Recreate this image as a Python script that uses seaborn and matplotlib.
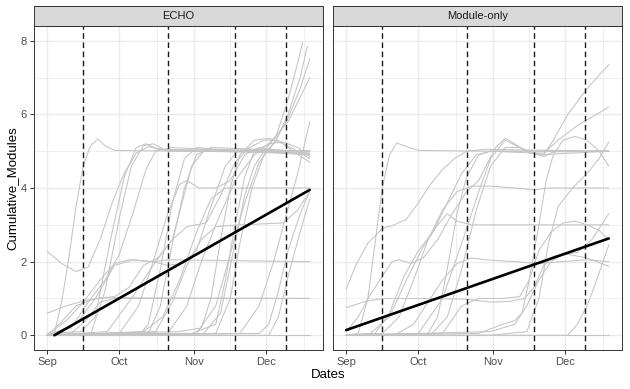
import numpy as np
import pandas as pd
import matplotlib
matplotlib.use("Agg")
import matplotlib.pyplot as plt
import seaborn as sns

# ---------------- data ----------------
panels = ["ECHO", "Module-only"]
month_labels = ["Sep", "Oct", "Nov", "Dec"]
month_days = [0, 30, 61, 91]           # days since Sep 1
minor_days = [15, 45.5, 76, 106.5]
session_days = [15, 50, 78, 99]        # dashed vertical lines
y_major = [0, 2, 4, 6, 8]
y_minor = [1, 3, 5, 7]

trend_echo_days = [3, 109]
trend_echo_vals = [0.0, 3.95]
trend_mod_days = [0, 109]
trend_mod_vals = [0.14, 2.63]

echo_curves = [
    ([0, 3, 6, 9, 12, 15, 18, 21, 24, 28, 60, 109], [0, 0.05, 0.9, 2.1, 3.5, 4.6, 5.15, 5.33, 5.15, 5.02, 5.0, 4.95]),
    ([0, 6, 12, 17, 22, 27, 32, 37, 42, 50, 109], [2.28, 1.95, 1.73, 1.85, 2.6, 3.6, 4.4, 4.95, 5.12, 5.02, 4.95]),
    ([0, 8, 16, 24, 109], [0.6, 0.8, 0.95, 1.02, 1.0]),
    ([0, 109], [0, 0]),
    ([0, 14, 20, 26, 32, 37, 41, 46, 109], [0.05, 0.1, 0.5, 2.5, 4.3, 5.1, 5.2, 5.05, 5.0]),
    ([0, 18, 24, 30, 35, 40, 44, 50, 109], [0, 0, 1.2, 3.2, 4.6, 5.15, 5.2, 5.0, 5.0]),
    ([0, 10, 17, 24, 30, 36, 41, 45, 52, 109], [0, 0.2, 0.9, 1.5, 2.2, 3.4, 4.5, 5.0, 5.1, 4.9]),
    ([0, 8, 15, 22, 28, 34, 44, 50, 109], [0, 0.4, 0.9, 1.5, 1.95, 2.05, 2.0, 2.05, 2.0]),
    ([0, 12, 20, 28, 36, 44, 50, 56, 62, 68, 74, 79, 109], [0, 0.3, 1.0, 1.9, 2.05, 2.0, 1.9, 1.95, 2.3, 3.5, 4.6, 5.0, 5.0]),
    ([0, 30, 38, 44, 50, 55, 58, 63, 70, 76, 82, 88, 109], [0, 0.05, 0.8, 2.0, 3.3, 4.1, 4.2, 4.0, 4.0, 4.2, 4.9, 5.1, 4.9]),
    ([0, 40, 48, 55, 62, 68, 74, 109], [0, 0.1, 0.5, 1.5, 2.8, 3.7, 4.0, 4.0]),
    ([0, 45, 52, 58, 64, 70, 80, 98, 104, 109], [0, 0.1, 0.9, 1.9, 2.6, 2.95, 3.0, 3.05, 3.4, 3.9]),
    ([0, 25, 35, 45, 52, 58, 66, 72, 78, 84, 90, 96, 102, 109], [0, 0.1, 1.0, 2.0, 2.6, 2.95, 3.05, 3.8, 4.7, 5.1, 5.3, 5.3, 5.0, 4.7]),
    ([0, 38, 42, 47, 52, 57, 62, 70, 109], [0, 0, 0.3, 1.8, 3.6, 4.8, 5.1, 5.05, 5.0]),
    ([0, 42, 47, 52, 57, 62, 68, 109], [0, 0.05, 0.8, 2.5, 4.0, 4.9, 5.1, 5.0]),
    ([0, 55, 64, 68, 72, 76, 80, 86, 92, 98, 104, 109], [0, 0.1, 0.2, 1.0, 2.6, 4.0, 4.9, 5.3, 5.35, 5.2, 5.0, 4.8]),
    ([0, 60, 70, 74, 78, 82, 86, 92, 98, 104, 109], [0, 0.05, 0.3, 1.5, 3.0, 4.3, 5.0, 5.2, 5.25, 5.1, 4.85]),
    ([0, 65, 72, 78, 82, 86, 90, 95, 100, 104, 106], [0, 0.05, 0.6, 2.5, 3.8, 4.6, 5.0, 5.4, 6.4, 7.4, 7.95]),
    ([0, 70, 76, 80, 85, 90, 95, 100, 105, 108], [0, 0.05, 1.0, 2.5, 4.0, 4.9, 5.3, 6.0, 7.0, 7.85]),
    ([0, 62, 70, 76, 82, 88, 94, 100, 105, 109], [0, 0.05, 0.8, 2.2, 3.6, 4.7, 5.2, 5.9, 6.7, 7.5]),
    ([0, 50, 58, 64, 70, 78, 86, 92, 100, 109], [0, 0.05, 0.8, 2.0, 3.0, 4.2, 4.9, 5.2, 5.8, 7.0]),
    ([0, 88, 92, 96, 100, 105, 109], [0, 0.05, 0.3, 1.2, 2.3, 3.3, 3.9]),
    ([0, 92, 96, 100, 105, 109], [0, 0.0, 0.5, 1.6, 2.8, 3.7]),
    ([0, 80, 88, 94, 99, 104, 109], [0, 0.05, 0.8, 2.0, 3.2, 4.4, 5.8]),
    ([0, 10, 16, 22, 28, 109], [0, 0.05, 0.4, 0.9, 1.0, 1.0]),
    ([0, 5, 12, 20, 28, 34, 40, 46, 52, 56, 60, 65, 109], [0, 0.3, 0.8, 1.0, 1.05, 1.3, 1.9, 2.1, 2.6, 3.6, 4.6, 5.0, 5.0]),
]

module_curves = [
    ([0, 5, 9, 12, 15, 18, 21, 24, 30, 60, 78, 82, 86, 109], [0, 0.05, 1.0, 2.5, 4.0, 4.9, 5.22, 5.15, 5.02, 5.0, 4.95, 4.85, 4.98, 5.0]),
    ([0, 4, 9, 15, 20, 25, 30, 35, 40, 45, 50, 58, 109], [1.25, 1.9, 2.5, 2.9, 3.0, 3.15, 3.6, 4.1, 4.5, 4.8, 5.0, 5.05, 5.0]),
    ([0, 8, 15, 30, 50, 60, 68, 74, 78, 82, 86, 92, 100, 109], [0.75, 0.92, 1.0, 1.0, 0.98, 0.9, 0.92, 1.0, 1.3, 1.9, 2.15, 2.2, 2.1, 1.87]),
    ([0, 5, 10, 15, 19, 22, 27, 32, 38, 44, 50, 55, 62, 66, 70, 76, 80, 109], [0.1, 0.5, 1.1, 1.6, 2.0, 2.05, 1.95, 2.1, 2.6, 3.3, 3.9, 4.2, 5.1, 5.35, 5.2, 4.95, 4.9, 5.0]),
    ([0, 10, 18, 25, 32, 38, 42, 46, 52, 109], [0, 0.05, 0.5, 1.5, 2.4, 3.0, 3.3, 3.1, 3.0, 3.0]),
    ([0, 20, 28, 34, 40, 46, 52, 58, 70, 80, 90, 100, 109], [0, 0, 0.3, 0.9, 1.5, 1.95, 2.1, 2.05, 2.0, 1.95, 2.0, 2.05, 2.0]),
    ([0, 40, 48, 55, 65, 72, 76, 80, 83, 86, 90, 95, 100, 105, 109], [0, 0.05, 0.8, 1.0, 1.0, 1.05, 1.5, 3.0, 4.2, 4.9, 5.3, 5.4, 5.3, 5.0, 4.6]),
    ([0, 30, 40, 48, 55, 60, 66, 72, 78, 82, 86, 92, 100, 109], [0, 0.05, 1.0, 2.5, 3.9, 4.8, 5.3, 5.1, 4.95, 4.9, 5.3, 6.0, 6.7, 7.35]),
    ([0, 35, 42, 48, 54, 60, 66, 72, 78, 82, 88, 96, 104, 109], [0, 0, 0.5, 1.8, 3.4, 4.6, 5.1, 5.1, 4.95, 4.95, 5.3, 5.7, 6.0, 6.2]),
    ([0, 15, 22, 28, 34, 40, 46, 52, 60, 70, 78, 84, 109], [0, 0.05, 0.5, 1.5, 2.6, 3.4, 3.9, 4.05, 4.05, 4.0, 3.95, 4.0, 4.0]),
    ([0, 92, 96, 100, 104, 109], [0, 0, 0.3, 0.8, 1.5, 2.45]),
    ([0, 55, 65, 70, 73, 76, 80, 85, 90, 95, 100, 105, 109], [0, 0.05, 0.3, 0.4, 0.6, 1.5, 2.3, 2.8, 3.05, 3.1, 3.0, 2.85, 2.6]),
    ([0, 60, 70, 75, 80, 85, 90, 96, 102, 109], [0, 0.1, 0.3, 0.8, 1.5, 2.0, 2.2, 2.25, 2.6, 3.3]),
    ([0, 60, 75, 80, 84, 88, 94, 100, 105, 109], [0, 0, 0.1, 1.0, 2.5, 3.5, 4.0, 4.4, 4.8, 5.25]),
    ([0, 109], [0, 0]),
    ([0, 12, 18, 24, 30, 36, 42, 48, 54, 60, 109], [0, 0.05, 0.6, 1.6, 2.3, 2.8, 3.6, 4.4, 4.9, 5.0, 5.0]),
    ([0, 34, 38, 42, 46, 50, 55, 60, 109], [0, 0.05, 0.5, 1.8, 3.3, 4.3, 4.9, 5.0, 5.0]),
]

# ---------------- build long table ----------------
rows = []
for panel, curves in zip(panels, [echo_curves, module_curves]):
    for i, (d, v) in enumerate(curves):
        for dd, vv in zip(d, v):
            rows.append((panel, f"{panel}_{i}", dd, vv))
df = pd.DataFrame(rows, columns=["panel", "pid", "day", "value"])
trend = {
    "ECHO": pd.DataFrame({"day": trend_echo_days, "value": trend_echo_vals}),
    "Module-only": pd.DataFrame({"day": trend_mod_days, "value": trend_mod_vals}),
}

# ---------------- styling ----------------
sns.set_style("white")
plt.rcParams["font.family"] = ["Liberation Sans", "DejaVu Sans"]

W, H = 630, 389
fig = plt.figure(figsize=(W / 100, H / 100), dpi=100)

def fx(px):
    return px / W

def fy(py):
    return 1 - py / H

panel_px = {"ECHO": (34, 323), "Module-only": (333, 622)}
top, bottom, strip_top = 26, 350, 6

for k, panel in enumerate(panels):
    x0, x1 = panel_px[panel]
    ax = fig.add_axes([fx(x0), fy(bottom), fx(x1 - x0), (bottom - top) / H])
    sub = df[df.panel == panel]
    sns.lineplot(data=sub, x="day", y="value", units="pid", estimator=None,
                 color="#c4c4c4", linewidth=0.75, ax=ax, zorder=2)
    for sd in session_days:
        ax.axvline(sd, color="#1a1a1a", linewidth=1.0, linestyle=(0, (4, 2.6)), zorder=3)
    sns.lineplot(data=trend[panel], x="day", y="value", color="black",
                 linewidth=1.9, ax=ax, zorder=4)

    ax.set_xlim(-5.45, 114.5)
    ax.set_ylim(-0.4, 8.4)
    ax.set_xticks(month_days)
    ax.set_xticklabels(month_labels)
    ax.set_xticks(minor_days, minor=True)
    ax.set_yticks(y_major)
    ax.set_yticks(y_minor, minor=True)
    ax.set_facecolor("white")
    ax.grid(which="major", color="#EBEBEB", linewidth=1.0, zorder=0)
    ax.grid(which="minor", color="#EBEBEB", linewidth=0.55, zorder=0)
    ax.set_axisbelow(True)
    for s in ax.spines.values():
        s.set_color("#333333")
        s.set_linewidth(0.7)
    ax.tick_params(which="major", length=3, width=0.7, color="#333333",
                   labelcolor="#4d4d4d", labelsize=8, pad=2)
    ax.tick_params(which="minor", length=0)
    ax.tick_params(axis="y", left=(k == 0), labelleft=(k == 0))
    ax.tick_params(axis="x", bottom=True)
    ax.set_xlabel("")
    ax.set_ylabel("")
    ax.legend_ = None

    sax = fig.add_axes([fx(x0), fy(top), fx(x1 - x0), (top - strip_top) / H])
    sax.set_facecolor("#D9D9D9")
    sax.set_xticks([])
    sax.set_yticks([])
    for s in sax.spines.values():
        s.set_color("#333333")
        s.set_linewidth(0.7)
    sax.text(0.5, 0.5, panel, ha="center", va="center", fontsize=8,
             color="#1a1a1a", transform=sax.transAxes)

fig.text(fx(328), fy(375), "Dates", ha="center", va="center", fontsize=9.5, color="black")
fig.text(fx(12), fy(188), "Cumulative_Modules", ha="center", va="center",
         rotation=90, fontsize=9.5, color="black")

fig.savefig("out.png", dpi=100)
